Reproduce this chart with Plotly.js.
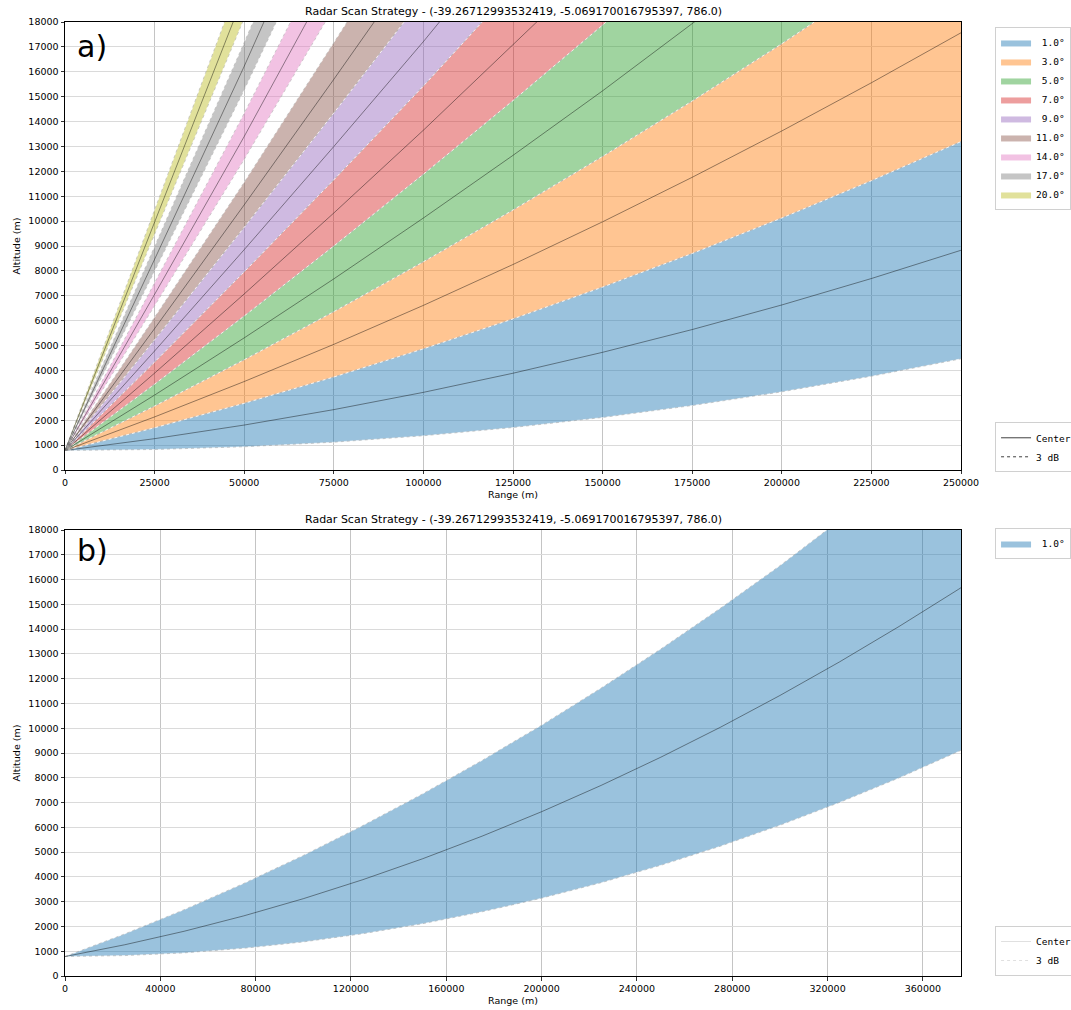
<!DOCTYPE html>
<html>
<head>
<meta charset="utf-8">
<script src="https://cdn.plot.ly/plotly-3.0.1.min.js"></script>
<style>
html,body{margin:0;padding:0;background:#fff;}
#chart{width:1071px;height:1010px;}
</style>
</head>
<body>
<div id="chart"></div>
<script>
// ---------- Data (a): ground range (m) and beam altitudes (m) ----------
const rangeA = [0, 25000, 50000, 75000, 100000, 125000, 150000, 175000, 200000, 225000, 250000];
// altitude of beam edges/centers by elevation angle (deg)
const alt00 = [786, 823, 933, 1117, 1375, 1706, 2110, 2589, 3140, 3766, 4465];
const alt01 = [786, 1259, 1806, 2426, 3120, 3888, 4729, 5643, 6631, 7693, 8829];
const alt02 = [786, 1696, 2679, 3736, 4867, 6071, 7349, 8700, 10125, 11623, 13195];
const alt03 = [786, 2133, 3554, 5048, 6615, 8257, 9972, 11760, 13622, 15558, 17567];
const alt04 = [786, 2571, 4430, 6362, 8367, 10447, 12600, 14826, 17126, 19499, 21947];
const alt05 = [786, 3010, 5308, 7679, 10124, 12642, 15234, 17899, 20638, 23451, 26337];
const alt06 = [786, 3450, 6188, 9000, 11885, 14844, 17876, 20982, 24161, 27414, 30741];
const alt07 = [786, 3892, 7073, 10326, 13653, 17054, 20528, 24076, 27697, 31392, 35161];
const alt08 = [786, 4336, 7960, 11658, 15429, 19273, 23192, 27183, 31249, 35388, 39600];
const alt09 = [786, 4782, 8852, 12996, 17213, 21504, 25868, 30306, 34817, 39402, 44061];
const alt10 = [786, 5231, 9750, 14342, 19007, 23747, 28560, 33446, 38406, 43439, 48547];
const alt11 = [786, 5682, 10652, 15696, 20813, 26003, 31267, 36605, 42016, 47501, 53060];
const alt12 = [786, 6137, 11561, 17059, 22630, 28275, 33994, 39786, 45652, 51591, 57604];
const alt13 = [786, 6595, 12477, 18432, 24461, 30564, 36741, 42991, 49314, 55711, 62182];
const alt14 = [786, 7056, 13400, 19817, 26307, 32872, 39510, 46221, 53006, 59865, 66797];
const alt15 = [786, 7522, 14331, 21213, 28170, 35199, 42303, 49480, 56730, 64054, 71452];
const alt16 = [786, 7991, 15271, 22623, 30049, 37549, 45122, 52769, 60489, 68283, 76151];
const alt17 = [786, 8466, 16220, 24047, 31948, 39922, 47970, 56092, 64287, 72555, 80898];
const alt18 = [786, 8946, 17179, 25486, 33867, 42321, 50848, 59450, 68124, 76873, 85695];
const alt19 = [786, 9431, 18150, 26942, 35807, 44747, 53760, 62846, 72006, 81240, 90547];
const alt20 = [786, 9922, 19132, 28415, 37772, 47202, 56706, 66283, 75934, 85659, 95457];
const alt21 = [786, 10419, 20126, 29907, 39761, 49689, 59690, 69765, 79913, 90135, 100431];

const beamLabels = ['1.0°', '3.0°', '5.0°', '7.0°', '9.0°', '11.0°', '14.0°', '17.0°', '20.0°'];
const beamLower  = [alt00, alt02, alt04, alt06, alt08, alt10, alt13, alt16, alt19];
const beamCenter = [alt01, alt03, alt05, alt07, alt09, alt11, alt14, alt17, alt20];
const beamUpper  = [alt02, alt04, alt06, alt08, alt10, alt12, alt15, alt18, alt21];
const beamColors = ['31,119,180', '255,127,14', '44,160,44', '214,39,40', '148,103,189',
                    '140,86,75', '227,119,194', '127,127,127', '188,189,34'];

// ---------- Data (b) ----------
const rangeB = [0, 25000, 50000, 75000, 100000, 125000, 150000, 175000, 200000, 225000, 250000,
                275000, 300000, 325000, 350000, 375000, 400000];
const altB_lower  = [786, 823, 933, 1117, 1375, 1706, 2110, 2589, 3140, 3766, 4465, 5237, 6083, 7003, 7996, 9063, 10204];
const altB_center = [786, 1259, 1806, 2426, 3120, 3888, 4729, 5643, 6631, 7693, 8829, 10037, 11320, 12676, 14106, 15609, 17186];
const altB_upper  = [786, 1696, 2679, 3736, 4867, 6071, 7349, 8700, 10125, 11623, 13195, 14841, 16560, 18352, 20219, 22159, 24172];
const labelB = '1.0°';

const titleText = 'Radar Scan Strategy - (-39.26712993532419, -5.069170016795397, 786.0)';
const NB = '\u00a0';

const edgeStyleWhite = {color: 'rgba(255,255,255,0.6)', width: 0.8};
const edgeStyleDot = {color: 'rgba(60,60,60,0.4)', width: 0.6, dash: 'dot'};
const centerStyle = {color: 'rgba(0,0,0,0.6)', width: 0.7};

function padLabel(s) { return (s.length < 5 ? NB : '') + s; }

const traces = [];
// ----- (a) fills -----
beamLabels.forEach((lab, i) => {
  traces.push({x: rangeA, y: beamLower[i], xaxis: 'x', yaxis: 'y', mode: 'lines',
    line: {width: 0, color: 'rgba(0,0,0,0)'}, showlegend: false, hoverinfo: 'skip'});
  traces.push({x: rangeA, y: beamUpper[i], xaxis: 'x', yaxis: 'y', mode: 'lines',
    fill: 'tonexty', fillcolor: 'rgba(' + beamColors[i] + ',0.45)',
    line: {width: 0, color: 'rgba(' + beamColors[i] + ',0.45)'},
    name: padLabel(lab), legend: 'legend', showlegend: true, hoverinfo: 'skip'});
});
// ----- (a) lines -----
beamLabels.forEach((lab, i) => {
  [beamLower[i], beamUpper[i]].forEach(arr => {
    traces.push({x: rangeA, y: arr, xaxis: 'x', yaxis: 'y', mode: 'lines', line: edgeStyleWhite, showlegend: false, hoverinfo: 'skip'});
    traces.push({x: rangeA, y: arr, xaxis: 'x', yaxis: 'y', mode: 'lines', line: edgeStyleDot, showlegend: false, hoverinfo: 'skip'});
  });
  traces.push({x: rangeA, y: beamCenter[i], xaxis: 'x', yaxis: 'y', mode: 'lines', line: centerStyle, showlegend: false, hoverinfo: 'skip'});
});
// legend2 entries
traces.push({x: [null], y: [null], xaxis: 'x', yaxis: 'y', mode: 'lines', name: 'Center',
  line: {color: 'rgba(0,0,0,0.75)', width: 1}, legend: 'legend2', showlegend: true});
traces.push({x: [null], y: [null], xaxis: 'x', yaxis: 'y', mode: 'lines', name: '3 dB',
  line: {color: 'rgba(0,0,0,0.75)', width: 1, dash: 'dot'}, legend: 'legend2', showlegend: true});

// ----- (b) -----
traces.push({x: rangeB, y: altB_lower, xaxis: 'x2', yaxis: 'y2', mode: 'lines',
  line: {width: 0, color: 'rgba(0,0,0,0)'}, showlegend: false, hoverinfo: 'skip'});
traces.push({x: rangeB, y: altB_upper, xaxis: 'x2', yaxis: 'y2', mode: 'lines',
  fill: 'tonexty', fillcolor: 'rgba(31,119,180,0.45)', line: {width: 0, color: 'rgba(31,119,180,0.45)'},
  name: padLabel(labelB), legend: 'legend3', showlegend: true, hoverinfo: 'skip'});
[altB_lower, altB_upper].forEach(arr => {
  traces.push({x: rangeB, y: arr, xaxis: 'x2', yaxis: 'y2', mode: 'lines', line: edgeStyleWhite, showlegend: false, hoverinfo: 'skip'});
  traces.push({x: rangeB, y: arr, xaxis: 'x2', yaxis: 'y2', mode: 'lines', line: edgeStyleDot, showlegend: false, hoverinfo: 'skip'});
});
traces.push({x: rangeB, y: altB_center, xaxis: 'x2', yaxis: 'y2', mode: 'lines', line: centerStyle, showlegend: false, hoverinfo: 'skip'});
traces.push({x: [null], y: [null], xaxis: 'x2', yaxis: 'y2', mode: 'lines', name: 'Center',
  line: {color: 'rgba(0,0,0,0.12)', width: 1}, legend: 'legend4', showlegend: true});
traces.push({x: [null], y: [null], xaxis: 'x2', yaxis: 'y2', mode: 'lines', name: '3 dB',
  line: {color: 'rgba(0,0,0,0.12)', width: 1, dash: 'dot'}, legend: 'legend4', showlegend: true});

const font = {family: 'DejaVu Sans', size: 9.5, color: '#000'};
const axisCommon = {
  showline: true, mirror: true, linecolor: '#000', linewidth: 1,
  ticks: 'outside', ticklen: 3.5, tickwidth: 0.8, tickcolor: '#000',
  showgrid: true, zeroline: false,
  tickfont: {family: 'DejaVu Sans', size: 9.5, color: '#000'}
};
const legendCommon = {
  bgcolor: 'rgba(255,255,255,0.9)', bordercolor: '#d0d0d0', borderwidth: 1,
  font: {family: 'DejaVu Sans Mono', size: 9.5, color: '#000'},
  xanchor: 'left', x: 1.038, itemwidth: 30, tracegroupgap: 0, traceorder: 'normal'
};

const layout = {
  width: 1071, height: 1010,
  margin: {l: 65, r: 110, t: 22, b: 34, pad: 0, autoexpand: false},
  paper_bgcolor: '#fff', plot_bgcolor: '#fff',
  font: font,
  showlegend: true,
  xaxis: Object.assign({}, axisCommon, {
    domain: [0, 1], anchor: 'y', range: [0, 250000], dtick: 25000, tick0: 0,
    tickformat: 'd', gridcolor: '#c4c4c4', gridwidth: 1,
    title: {text: 'Range (m)', font: {family: 'DejaVu Sans', size: 9.5}, standoff: 4}
  }),
  yaxis: Object.assign({}, axisCommon, {
    domain: [0.5304, 1], anchor: 'x', range: [0, 18000], dtick: 1000, tick0: 0,
    tickformat: 'd', gridcolor: '#dadada', gridwidth: 1,
    title: {text: 'Altitude (m)', font: {family: 'DejaVu Sans', size: 9.5}, standoff: 6}
  }),
  xaxis2: Object.assign({}, axisCommon, {
    domain: [0, 1], anchor: 'y2', range: [0, 376000], dtick: 40000, tick0: 0,
    tickformat: 'd', gridcolor: '#c4c4c4', gridwidth: 1,
    title: {text: 'Range (m)', font: {family: 'DejaVu Sans', size: 9.5}, standoff: 4}
  }),
  yaxis2: Object.assign({}, axisCommon, {
    domain: [0, 0.4675], anchor: 'x2', range: [0, 18000], dtick: 1000, tick0: 0,
    tickformat: 'd', gridcolor: '#dadada', gridwidth: 1,
    title: {text: 'Altitude (m)', font: {family: 'DejaVu Sans', size: 9.5}, standoff: 6}
  }),
  legend: Object.assign({}, legendCommon, {y: 0.9948, yanchor: 'top'}),
  legend2: Object.assign({}, legendCommon, {y: 0.528, yanchor: 'bottom'}),
  legend3: Object.assign({}, legendCommon, {y: 0.4696, yanchor: 'top'}),
  legend4: Object.assign({}, legendCommon, {y: 0.0, yanchor: 'bottom'}),
  annotations: [
    {text: titleText, xref: 'paper', yref: 'paper', x: 0.5, y: 1.0105, xanchor: 'center', yanchor: 'middle',
     showarrow: false, font: {family: 'DejaVu Sans', size: 11, color: '#000'}},
    {text: titleText, xref: 'paper', yref: 'paper', x: 0.5, y: 0.478, xanchor: 'center', yanchor: 'middle',
     showarrow: false, font: {family: 'DejaVu Sans', size: 11, color: '#000'}},
    {text: 'a)', xref: 'paper', yref: 'paper', x: 0.011, y: 0.9738, xanchor: 'left', yanchor: 'middle',
     showarrow: false, font: {family: 'DejaVu Sans', size: 30, color: '#000'}},
    {text: 'b)', xref: 'paper', yref: 'paper', x: 0.011, y: 0.4455, xanchor: 'left', yanchor: 'middle',
     showarrow: false, font: {family: 'DejaVu Sans', size: 30, color: '#000'}}
  ]
};

Plotly.newPlot('chart', traces, layout, {displayModeBar: false, staticPlot: true});
</script>
</body>
</html>
